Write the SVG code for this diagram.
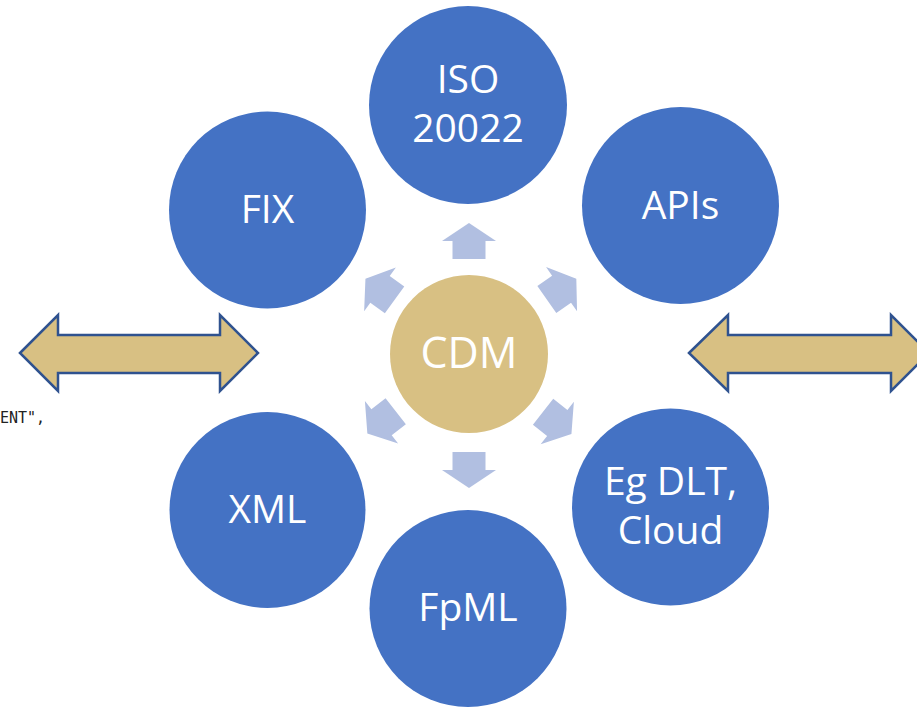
<svg xmlns="http://www.w3.org/2000/svg" width="917" height="707" viewBox="0 0 917 707">
<style>
.n{fill:#4472C4}
.c{fill:#D8C083}
.t{font-family:"Open Sans","Liberation Sans",sans-serif;font-size:39px;fill:#FFFFFF;text-anchor:middle}
.da{fill:#D8C083;stroke:#2F528F;stroke-width:2.5;stroke-linejoin:miter}
.sa{fill:#B1BFE1}
</style>
<defs>
<path id="arr" d="M0,-18 L27,0 L16.5,0 L16.5,18 L-16.5,18 L-16.5,0 L-27,0 Z"/>
</defs>
<rect width="917" height="707" fill="#FFFFFF"/>
<text x="0" y="423" font-family="'DejaVu Sans Mono',monospace" font-size="15" fill="#222222">ENT",</text>
<g id="left-double-arrow">
<path class="da" d="M20,353 L58,315 L58,335 L220,335 L220,315 L258,353 L220,391 L220,373 L58,373 L58,391 Z"/>
</g>
<g id="right-double-arrow">
<path class="da" d="M689,353 L728,315 L728,335 L891,335 L891,315 L929,353 L891,391 L891,373 L728,373 L728,391 Z"/>
</g>
<g id="connectors">
<use href="#arr" class="sa" transform="translate(469,354) rotate(0) translate(0,-113)"/>
<use href="#arr" class="sa" transform="translate(469,354) rotate(180) translate(0,-116)"/>
<use href="#arr" class="sa" transform="translate(469,354) rotate(-54) translate(0,-110)"/>
<use href="#arr" class="sa" transform="translate(469,354) rotate(55) translate(0,-113)"/>
<use href="#arr" class="sa" transform="translate(469,354) rotate(-128) translate(0,-111)"/>
<use href="#arr" class="sa" transform="translate(469,354) rotate(128) translate(0,-112)"/>
</g>
<g id="node-cdm">
<circle class="c" cx="469" cy="354" r="79"/>
<text class="t" x="469" y="368" style="font-size:43px">CDM</text>
</g>
<g id="node-iso">
<circle class="n" cx="468" cy="105" r="99"/>
<text class="t" x="468" y="93">ISO</text>
<text class="t" x="468" y="142">20022</text>
</g>
<g id="node-fix">
<circle class="n" cx="267.5" cy="210" r="98.5"/>
<text class="t" x="267.5" y="223">FIX</text>
</g>
<g id="node-apis">
<circle class="n" cx="680.5" cy="205.5" r="98.5"/>
<text class="t" x="680.5" y="219">APIs</text>
</g>
<g id="node-xml">
<circle class="n" cx="267.5" cy="510" r="98"/>
<text class="t" x="267.5" y="523">XML</text>
</g>
<g id="node-dlt">
<circle class="n" cx="670.5" cy="507" r="98.5"/>
<text class="t" x="670.5" y="495">Eg DLT,</text>
<text class="t" x="670.5" y="544">Cloud</text>
</g>
<g id="node-fpml">
<circle class="n" cx="468" cy="608.5" r="98.5"/>
<text class="t" x="468" y="621">FpML</text>
</g>
</svg>
